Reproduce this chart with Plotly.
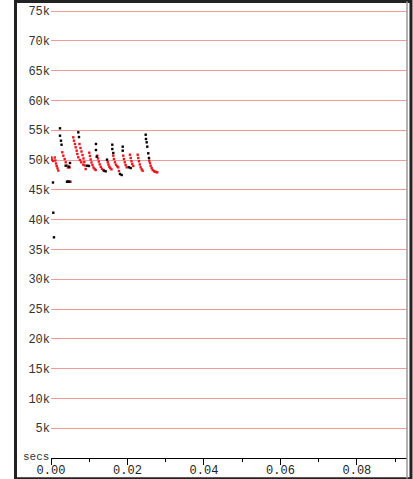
import plotly.graph_objects as go

# Sample timings (seconds) and throughput values, red series
red_secs = [0.0001, 0.00026, 0.00052, 0.00097, 0.00112, 0.00131, 0.00149, 0.00170, 0.00191,
            0.00295, 0.00322, 0.00358, 0.00384, 0.00426, 0.00444, 0.00484, 0.00510,
            0.00583, 0.00601, 0.00627, 0.00646, 0.00672, 0.00688, 0.00714, 0.00758, 0.00792, 0.00844,
            0.00745, 0.00771, 0.00797, 0.00824, 0.00850, 0.00871, 0.00889, 0.00907,
            0.01001, 0.01020, 0.01038, 0.01059, 0.01085, 0.01111, 0.01142, 0.01169,
            0.01210, 0.01229, 0.01250, 0.01273, 0.01302, 0.01333, 0.01367,
            0.01485, 0.01503, 0.01524, 0.01550, 0.01582,
            0.01629, 0.01647, 0.01673, 0.01699, 0.01731, 0.01759, 0.01778,
            0.01890, 0.01908, 0.01929, 0.01953, 0.01979,
            0.02065, 0.02084, 0.02105, 0.02125, 0.02152,
            0.02267, 0.02282, 0.02301, 0.02322, 0.02345, 0.02371, 0.02397,
            0.02570, 0.02588, 0.02606, 0.02633, 0.02658, 0.02693, 0.02719, 0.02750, 0.02779]
red_vals = [50420, 50090, 49840, 50420, 49920, 49420, 49000, 48610, 48240,
            51300, 50730, 50170, 49620, 49050, 48750, 48750, 46360,
            53810, 53240, 52690, 52140, 51570, 51010, 50460, 50000, 49620, 49220,
            52690, 52020, 51430, 50840, 50260, 49670, 49080, 48490,
            51230, 50680, 50090, 49590, 49170, 48750, 48490, 48330,
            50730, 50260, 49750, 49280, 48860, 48520, 48330,
            49620, 49250, 48910, 48660, 48440,
            50730, 50170, 49620, 49220, 48960, 48780, 48160,
            50730, 50170, 49620, 49170, 48780,
            50890, 50340, 49790, 49330, 49000,
            50890, 50340, 49790, 49250, 48780, 48440, 48210,
            49890, 49500, 49050, 48660, 48330, 48160, 48040, 47990, 47940]

# Black series
black_secs = [0.00052, 0.00060, 0.00078,
              0.00235, 0.00235, 0.00261, 0.00275,
              0.00384, 0.00471, 0.00497,
              0.00418, 0.00438, 0.00458, 0.00478,
              0.00714, 0.00732,
              0.00949, 0.00993,
              0.01176, 0.01176, 0.01195,
              0.01386, 0.01430, 0.01464,
              0.01603, 0.01603, 0.01629,
              0.01804, 0.01848,
              0.01875, 0.01875,
              0.02039, 0.02084,
              0.02476, 0.02484, 0.02502, 0.02518, 0.02544, 0.02562]
black_vals = [46230, 41160, 37030,
              55320, 54080, 53240, 52570,
              49050, 48880, 49500,
              46360, 46360, 46360, 46360,
              54650, 53860,
              49050, 49000,
              52690, 51680, 50560,
              48210, 48110, 50060,
              52570, 51850, 51180,
              47660, 47490,
              52240, 51570,
              48780, 48660,
              54250, 53530, 52970, 52240, 51130, 50340]

y_ticks = [5000, 10000, 15000, 20000, 25000, 30000, 35000, 40000,
           45000, 50000, 55000, 60000, 65000, 70000, 75000]
y_labels = ["5k", "10k", "15k", "20k", "25k", "30k", "35k", "40k",
            "45k", "50k", "55k", "60k", "65k", "70k", "75k"]
x_ticks = [0.0, 0.02, 0.04, 0.06, 0.08]
x_labels = ["0.00", "0.02", "0.04", "0.06", "0.08"]

FONT = "Liberation Mono"

fig = go.Figure()
fig.add_trace(go.Scatter(
    x=red_secs, y=red_vals, mode="markers",
    marker=dict(symbol="square", size=2.4, color="#e8161e", line=dict(width=0)),
    hoverinfo="skip", showlegend=False))
fig.add_trace(go.Scatter(
    x=black_secs, y=black_vals, mode="markers",
    marker=dict(symbol="square", size=2.4, color="#000000", line=dict(width=0)),
    hoverinfo="skip", showlegend=False))

fig.update_layout(
    width=413, height=479,
    margin=dict(l=51, r=6, t=3, b=21, pad=0),
    paper_bgcolor="white", plot_bgcolor="white",
    font=dict(family=FONT, size=12, color="#333333"),
    xaxis=dict(
        range=[0, 0.0931], showgrid=False, zeroline=False, automargin=False,
        showline=True, linecolor="#000000", linewidth=1,
        tickvals=x_ticks, ticktext=x_labels,
        ticks="outside", ticklen=6, tickcolor="#000000", tickwidth=1,
        ticklabelstandoff=-5,
        minor=dict(dtick=0.01, tick0=0, ticks="outside", ticklen=3,
                   tickcolor="#000000", showgrid=False),
        tickfont=dict(family=FONT, size=12, color="#222222"),
    ),
    yaxis=dict(
        range=[0, 76350], showgrid=True, gridcolor="#f29a9a", gridwidth=1,
        zeroline=False, showline=False, automargin=False,
        tickvals=y_ticks, ticktext=y_labels, ticks="", ticklen=0,
        tickfont=dict(family=FONT, size=12, color="#333333"),
    ),
)

# "secs" unit label at the left end of the time axis
fig.add_annotation(text="secs", xref="paper", yref="paper", x=0, y=0,
                   xanchor="right", yanchor="middle", xshift=-1, yshift=1,
                   borderpad=0, showarrow=False,
                   font=dict(family=FONT, size=11, color="#333333"))

# Dark frame around the whole chart
fig.add_shape(type="rect", xref="paper", yref="paper",
              x0=-0.0997, x1=1.0112, y0=-0.0455, y1=1.0033,
              line=dict(color="#222222", width=3), fillcolor="rgba(0,0,0,0)",
              layer="above")
fig.add_shape(type="line", xref="paper", yref="paper",
              x0=1.0, x1=1.0, y0=-0.0455, y1=1.0033,
              line=dict(color="#999999", width=1.5), layer="above")

fig.write_html("out.html")
